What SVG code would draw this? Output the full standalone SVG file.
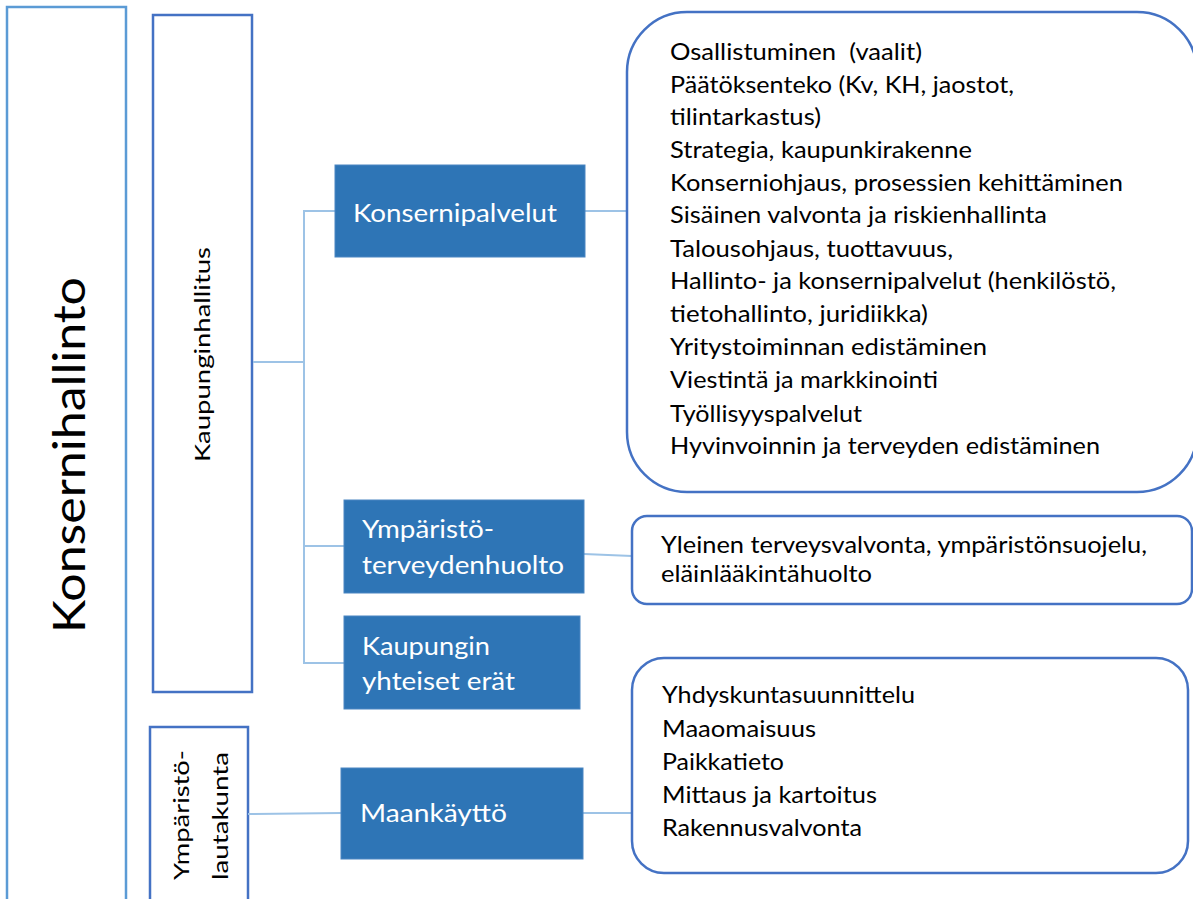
<svg xmlns="http://www.w3.org/2000/svg" width="1193" height="899" viewBox="0 0 1193 899">
<style>
  .frame{fill:#fff;stroke:#4472C4;stroke-width:2.5}
  .outer{fill:#fff;stroke:#5B9BD5;stroke-width:2.5}
  .blue{fill:#2E75B6;stroke:#4A86C2;stroke-width:1}
  .conn{fill:none;stroke:#9DC3E6;stroke-width:2}
  .t{font-family:Lato,"Liberation Sans",sans-serif;fill:#000;font-size:23px}
  .w{font-family:Lato,"Liberation Sans",sans-serif;fill:#fff;font-size:25px}
</style>
<rect width="1193" height="899" fill="#fff"/>
<g id="konsernihallinto">
  <rect class="outer" x="7" y="7" width="119" height="905"/>
  <text class="t" style="font-size:45px" transform="translate(85,633) rotate(-90)" textLength="356" lengthAdjust="spacingAndGlyphs">Konsernihallinto</text>
</g>
<g id="kaupunginhallitus">
  <rect class="frame" x="153" y="15" width="99" height="677"/>
  <text class="t" style="font-size:22px" transform="translate(210,462) rotate(-90)" textLength="215" lengthAdjust="spacingAndGlyphs">Kaupunginhallitus</text>
</g>
<g id="ymparistolautakunta">
  <rect class="frame" x="150" y="727" width="98" height="185"/>
  <text class="t" style="font-size:22px" transform="translate(189,880) rotate(-90)" textLength="130" lengthAdjust="spacingAndGlyphs">Ympäristö-</text>
  <text class="t" style="font-size:22px" transform="translate(228,880) rotate(-90)" textLength="128" lengthAdjust="spacingAndGlyphs">lautakunta</text>
</g>
<g id="connectors">
  <line class="conn" x1="253" y1="362" x2="304" y2="362"/>
  <line class="conn" x1="304" y1="211" x2="304" y2="663"/>
  <line class="conn" x1="303" y1="211" x2="335" y2="211"/>
  <line class="conn" x1="303" y1="546" x2="344" y2="546"/>
  <line class="conn" x1="303" y1="663" x2="344" y2="663"/>
  <line class="conn" x1="585" y1="211" x2="627" y2="211"/>
  <line class="conn" x1="584" y1="554" x2="632" y2="556"/>
  <line class="conn" x1="248" y1="814" x2="341" y2="813"/>
  <line class="conn" x1="583" y1="813" x2="632" y2="813"/>
</g>
<g id="konsernipalvelut">
  <rect class="blue" x="335" y="165" width="250" height="92"/>
  <text class="w" x="353" y="222" textLength="204" lengthAdjust="spacingAndGlyphs">Konsernipalvelut</text>
</g>
<g id="ymparistoterveydenhuolto">
  <rect class="blue" x="344" y="500" width="240" height="93"/>
  <text class="w" x="362" y="538" textLength="132" lengthAdjust="spacingAndGlyphs">Ympäristö-</text>
  <text class="w" x="362" y="574" textLength="202" lengthAdjust="spacingAndGlyphs">terveydenhuolto</text>
</g>
<g id="kaupunginyhteiseterat">
  <rect class="blue" x="344" y="616" width="236" height="93"/>
  <text class="w" x="362" y="655" textLength="128" lengthAdjust="spacingAndGlyphs">Kaupungin</text>
  <text class="w" x="362" y="690" textLength="153" lengthAdjust="spacingAndGlyphs">yhteiset erät</text>
</g>
<g id="maankaytto">
  <rect class="blue" x="341" y="768" width="242" height="91"/>
  <text class="w" x="360" y="822" textLength="147" lengthAdjust="spacingAndGlyphs">Maankäyttö</text>
</g>
<g id="konsernipalvelut-tehtavat">
  <rect class="frame" x="627" y="12" width="570" height="480" rx="60" ry="60"/>
  <text class="t" x="670" y="60" textLength="252" lengthAdjust="spacingAndGlyphs" xml:space="preserve">Osallistuminen  (vaalit)</text>
  <text class="t" x="670" y="93" textLength="344" lengthAdjust="spacingAndGlyphs">Päätöksenteko (Kv, KH, jaostot,</text>
  <text class="t" x="670" y="125" textLength="151" lengthAdjust="spacingAndGlyphs">tilintarkastus)</text>
  <text class="t" x="670" y="158" textLength="302" lengthAdjust="spacingAndGlyphs">Strategia, kaupunkirakenne</text>
  <text class="t" x="670" y="191" textLength="453" lengthAdjust="spacingAndGlyphs">Konserniohjaus, prosessien kehittäminen</text>
  <text class="t" x="670" y="223" textLength="377" lengthAdjust="spacingAndGlyphs">Sisäinen valvonta ja riskienhallinta</text>
  <text class="t" x="670" y="257" textLength="283" lengthAdjust="spacingAndGlyphs">Talousohjaus, tuottavuus,</text>
  <text class="t" x="670" y="289" textLength="446" lengthAdjust="spacingAndGlyphs">Hallinto- ja konsernipalvelut (henkilöstö,</text>
  <text class="t" x="670" y="322" textLength="258" lengthAdjust="spacingAndGlyphs">tietohallinto, juridiikka)</text>
  <text class="t" x="670" y="355" textLength="317" lengthAdjust="spacingAndGlyphs">Yritystoiminnan edistäminen</text>
  <text class="t" x="670" y="388" textLength="268" lengthAdjust="spacingAndGlyphs">Viestintä ja markkinointi</text>
  <text class="t" x="670" y="422" textLength="192" lengthAdjust="spacingAndGlyphs">Työllisyyspalvelut</text>
  <text class="t" x="670" y="454" textLength="430" lengthAdjust="spacingAndGlyphs">Hyvinvoinnin ja terveyden edistäminen</text>
</g>
<g id="ymparistoterveys-tehtavat">
  <rect class="frame" x="632" y="516" width="560" height="88" rx="15" ry="15"/>
  <text class="t" x="661" y="553" textLength="486" lengthAdjust="spacingAndGlyphs">Yleinen terveysvalvonta, ympäristönsuojelu,</text>
  <text class="t" x="661" y="582" textLength="211" lengthAdjust="spacingAndGlyphs">eläinlääkintähuolto</text>
</g>
<g id="maankaytto-tehtavat">
  <rect class="frame" x="632" y="658" width="556" height="215" rx="32" ry="32"/>
  <text class="t" x="662" y="703" textLength="253" lengthAdjust="spacingAndGlyphs">Yhdyskuntasuunnittelu</text>
  <text class="t" x="662" y="737" textLength="154" lengthAdjust="spacingAndGlyphs">Maaomaisuus</text>
  <text class="t" x="662" y="770" textLength="122" lengthAdjust="spacingAndGlyphs">Paikkatieto</text>
  <text class="t" x="662" y="803" textLength="215" lengthAdjust="spacingAndGlyphs">Mittaus ja kartoitus</text>
  <text class="t" x="662" y="836" textLength="200" lengthAdjust="spacingAndGlyphs">Rakennusvalvonta</text>
</g>
</svg>
